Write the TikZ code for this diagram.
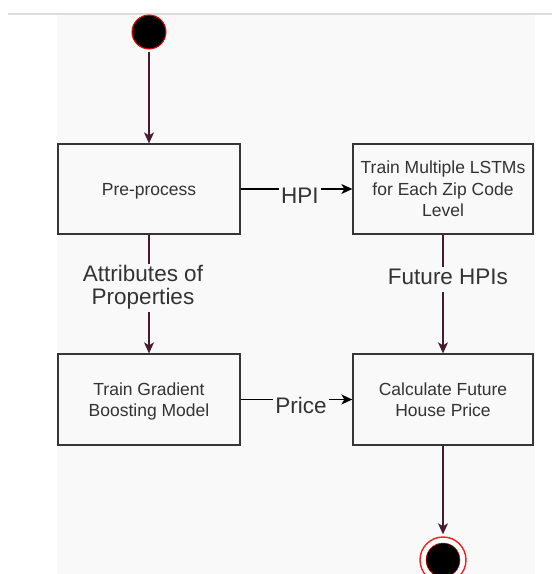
\documentclass[tikz,border=0pt]{standalone}
\usepackage{fontspec}
\setmainfont{Liberation Sans}
\usetikzlibrary{arrows.meta}
\definecolor{panel}{HTML}{F9F9F9}
\definecolor{topline}{HTML}{DCDCDC}
\definecolor{boxline}{HTML}{363636}
\definecolor{txt}{HTML}{333333}
\definecolor{maroon}{RGB}{72,28,48}
\begin{document}
\begin{tikzpicture}[x=1pt,y=-1pt,
  box/.style={draw=boxline, line width=1.3pt, fill=panel, text=txt,
    align=center, inner sep=2pt, text depth=0pt,
    font=\fontsize{17.5pt}{21.5pt}\selectfont},
  lbl/.style={fill=panel, text=txt, align=center, inner sep=2pt,
    text depth=5pt, font=\fontsize{22.5pt}{23pt}\selectfont},
  tipst/.style={-{Stealth[length=11pt,width=10pt,inset=3pt]}},
  vedge/.style={tipst, draw=maroon, fill=maroon, line width=1.3pt},
  hedge/.style={tipst, draw=black, fill=black, line width=1.3pt},
  startst/.style={circle, fill=black, draw=red, line width=1pt,
    minimum size=34pt, inner sep=0pt},
  endst/.style={circle, fill=white, draw=red!90!white, line width=1.4pt,
    minimum size=46pt, inner sep=0pt}
]
\useasboundingbox (0,0) rectangle (552,574);
% background
\fill[panel] (57,15) rectangle (535,574);
\draw[topline, line width=1.5pt] (8,14) -- (552,14);

% nodes
\node[startst] (start) at (149,32) {};
\node[box, minimum width=182pt, minimum height=90pt] (pre) at (149,189) {Pre-process};
\node[box, minimum width=180pt, minimum height=90pt] (lstm) at (443,189)
  {Train Multiple LSTMs\\for Each Zip Code\\Level};
\node[box, minimum width=182pt, minimum height=91pt] (gb) at (149,399.5)
  {Train Gradient\\Boosting Model};
\node[box, minimum width=180pt, minimum height=91pt] (calc) at (443,399.5)
  {Calculate Future\\House Price};
\node[endst] (endn) at (443,560) {};
\fill[black, draw=red, line width=0.5pt] (endn.center) circle[radius=17pt];

% connectors
\draw[vedge, shorten <=2pt] (start) -- (pre);
\draw[hedge] (pre) -- (lstm);
\draw[vedge] (pre) -- (gb);
\draw[vedge] (lstm) -- (calc);
\draw[hedge] (gb) -- (calc);
\draw[vedge, shorten >=2pt] (calc) -- (endn);

% labels
\node[lbl] (lhpi) at (300,198.5) {HPI};
\node[lbl] (lprice) at (301,407.5) {Price};
\node[lbl] (lattr) at (143,287.8) {Attributes of\\Properties};
\node[lbl] (lfut) at (448,279.5) {Future HPIs};
\end{tikzpicture}
\end{document}
